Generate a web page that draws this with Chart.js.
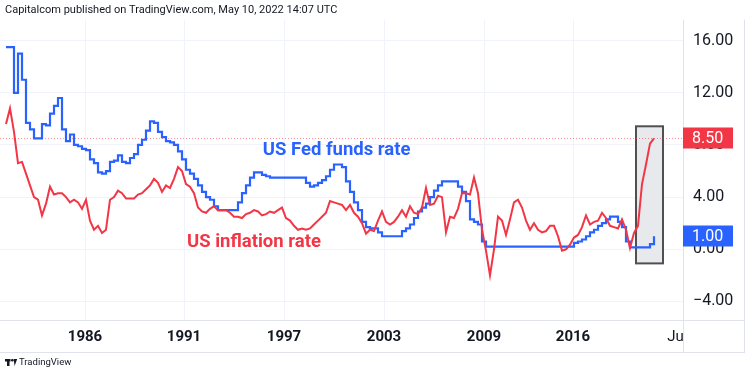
<!DOCTYPE html>
<html>
<head>
<meta charset="utf-8">
<script src="https://cdn.jsdelivr.net/npm/chart.js@4.4.1/dist/chart.umd.min.js"></script>
<style>
  html, body { margin: 0; padding: 0; background: #fff; }
  #wrap { position: relative; width: 750px; height: 372px; }
</style>
</head>
<body>
<div id="wrap"><canvas id="chart" width="750" height="372"></canvas></div>
<script>
// One value per bar, left to right across the pane (TradingView spaces bars evenly).
const inflation = [
  9.6, 10.8, 9.0, 6.6, 6.7, 5.8, 4.9, 4.0, 3.8, 2.6, 3.5, 4.8, 4.2, 4.3, 4.3, 4.0,
  3.6, 3.8, 3.6, 3.1, 3.8, 2.2, 1.5, 1.8, 1.25, 1.5, 3.8, 4.0, 4.5, 4.3, 3.9, 3.9,
  3.9, 4.2, 4.3, 4.6, 4.9, 5.4, 5.1, 4.4, 4.9, 4.7, 5.4, 6.3, 6.0, 5.0, 4.8, 4.3,
  3.2, 2.9, 2.8, 3.1, 3.3, 3.0, 3.0, 3.0, 2.8, 2.5, 2.5, 2.4, 2.7, 2.8, 3.0, 2.9, 2.6,
  2.7, 2.9, 2.8, 3.0, 3.2, 2.4, 2.2, 1.8, 1.5, 1.6, 1.5, 1.6, 1.9, 2.2, 2.5, 2.8,
  3.7, 3.6, 3.5, 3.4, 3.0, 3.4, 2.8, 2.5, 2.0, 1.2, 1.5, 1.4, 2.2, 2.9, 2.1, 1.9,
  2.1, 2.5, 3.0, 2.5, 3.3, 2.8, 2.7, 3.2, 4.7, 3.4, 3.5, 4.1, 4.0, 1.3, 2.5, 2.4,
  3.1, 4.3, 4.3, 4.2, 5.5, 4.3, 1.5, -0.1, -2.0, 0.0, 2.5, 2.2, 1.1, 2.3, 3.6, 3.8, 3.2,
  2.2, 1.5, 2.0, 1.5, 1.3, 1.4, 1.8, 1.8, 1.0, -0.1, 0.0, 0.35, 0.9, 1.1, 1.7, 2.6,
  1.9, 2.1, 2.2, 2.8, 2.4, 1.8, 1.7, 1.6, 2.3, 1.5, 0.1, 1.25, 1.8, 5.0, 6.5, 8.1, 8.5
];
const fedFunds = [
  15.5, 15.5, 12.0, 15.0, 13.0, 9.7, 9.2, 8.5, 8.5, 9.6, 9.5, 10.4, 11.0, 11.6, 9.2, 8.3,
  8.8, 8.0, 7.9, 7.7, 7.6, 6.9, 6.6, 5.9, 5.8, 6.0, 6.7, 6.8, 7.2, 6.7, 6.6, 7.0,
  7.3, 8.0, 8.4, 9.1, 9.8, 9.7, 9.0, 8.6, 8.3, 8.2, 8.0, 7.5, 6.9, 6.1, 5.8, 5.4,
  4.9, 4.4, 4.0, 3.8, 3.3, 3.0, 3.0, 3.0, 3.0, 3.0, 3.6, 4.3, 4.9, 5.5, 5.9, 5.9, 5.7,
  5.6, 5.5, 5.5, 5.5, 5.5, 5.5, 5.5, 5.5, 5.5, 5.5, 5.1, 4.8, 4.9, 5.1, 5.3, 5.6,
  6.1, 6.5, 6.5, 6.3, 5.2, 4.4, 3.6, 3.0, 2.1, 1.7, 1.6, 1.6, 1.3, 1.0, 1.0, 1.0,
  1.0, 1.0, 1.4, 1.6, 1.9, 2.4, 2.9, 3.2, 3.5, 4.0, 4.5, 4.9, 5.2, 5.2, 5.2, 5.2,
  4.8, 4.4, 3.7, 2.3, 2.1, 1.9, 0.6, 0.2, 0.2, 0.2, 0.2, 0.2, 0.2, 0.2, 0.2, 0.2, 0.2,
  0.2, 0.2, 0.2, 0.2, 0.2, 0.2, 0.2, 0.2, 0.2, 0.2, 0.2, 0.2, 0.5, 0.6, 0.75, 1.0,
  1.3, 1.5, 1.8, 2.0, 2.3, 2.5, 2.5, 2.1, 1.7, 0.6, 0.15, 0.15, 0.15, 0.15, 0.15, 0.4, 1.0
];

// time axis: bar index of each label
const xTickBars = [19.75, 44.5, 69.5, 94.5, 119.5, 141.75, 167.4];
const xTickLabels = ['1986', '1991', '1997', '2003', '2009', '2016', 'Ju'];
const yTickValues = [-4, 0, 4, 8, 12, 16];
const seriesNames = ['US inflation rate', 'US Fed funds rate'];

const BLUE = '#2962ff';
const RED = '#f23645';
const TEXT = '#131722';
const GRID = '#f0f3fa';
const FRAME = '#e0e3eb';

// drawings on the chart (bar index / price units)
const highlight = { from: 157.5, to: 164.25, high: 9.43, low: -1.08 };
const callouts = [
  { text: 'US Fed funds rate', bar: 64.2, value: 7.6, color: BLUE },
  { text: 'US inflation rate', bar: 45.25, value: 0.5, color: RED }
];

const toPoints = arr => arr.map((v, i) => ({ x: i, y: v }));
const last = arr => arr[arr.length - 1];

const drawings = {
  id: 'drawings',
  beforeDatasetsDraw(chart) {
    const { ctx, chartArea: a, scales: { x, y } } = chart;
    ctx.save();
    // grey highlight rectangle
    const x0 = x.getPixelForValue(highlight.from), x1 = x.getPixelForValue(highlight.to);
    const y0 = y.getPixelForValue(highlight.high), y1 = y.getPixelForValue(highlight.low);
    ctx.fillStyle = '#e8e9ec';
    ctx.fillRect(x0, y0, x1 - x0, y1 - y0);
    ctx.strokeStyle = '#505050';
    ctx.lineWidth = 2;
    ctx.strokeRect(x0, y0, x1 - x0, y1 - y0);
    // last price line of the inflation series
    const py = Math.round(y.getPixelForValue(last(inflation))) + 0.5;
    ctx.strokeStyle = 'rgba(242,54,69,0.55)';
    ctx.lineWidth = 1;
    ctx.setLineDash([1, 2]);
    ctx.beginPath();
    ctx.moveTo(a.left, py);
    ctx.lineTo(a.right, py);
    ctx.stroke();
    ctx.restore();
  },
  afterDatasetsDraw(chart) {
    const { ctx, scales: { x, y } } = chart;
    ctx.save();
    ctx.font = 'bold 18.5px Roboto';
    ctx.textBaseline = 'middle';
    ctx.textAlign = 'left';
    callouts.forEach(c => {
      ctx.fillStyle = c.color;
      ctx.fillText(c.text, x.getPixelForValue(c.bar), y.getPixelForValue(c.value));
    });
    ctx.restore();
  },
  afterDraw(chart) {
    const { ctx, chartArea: a, scales: { y } } = chart;
    const right = a.right + y.width;
    const axisBottom = a.bottom + chart.scales.x.height;
    ctx.save();
    // pane frame
    ctx.strokeStyle = FRAME;
    ctx.lineWidth = 1;
    ctx.beginPath();
    ctx.moveTo(a.right + 0.5, a.top); ctx.lineTo(a.right + 0.5, axisBottom);
    ctx.moveTo(right - 0.5, a.top); ctx.lineTo(right - 0.5, axisBottom);
    ctx.moveTo(0, a.bottom + 0.5); ctx.lineTo(right, a.bottom + 0.5);
    ctx.moveTo(0, axisBottom + 0.5); ctx.lineTo(right, axisBottom + 0.5);
    ctx.stroke();

    // last value labels on the price scale
    const tags = [[last(inflation), RED], [last(fedFunds), BLUE]];
    ctx.font = '16px Roboto';
    ctx.textBaseline = 'middle';
    tags.forEach(([v, col]) => {
      const py = y.getPixelForValue(v);
      ctx.fillStyle = col;
      ctx.fillRect(a.right, Math.round(py) - 10.5, 50, 21);
      ctx.fillStyle = '#fff';
      ctx.fillText(v.toFixed(2), a.right + 9, py + 0.5);
    });

    // header and footer
    ctx.fillStyle = TEXT;
    ctx.font = '11px Roboto';
    ctx.fillText('Capitalcom published on TradingView.com, May 10, 2022 14:07 UTC', 5, 10);
    ctx.fillRect(5, 359, 5.5, 2.5);
    ctx.fillRect(7, 359, 2.5, 7);
    ctx.beginPath(); ctx.arc(12.3, 360.3, 1.3, 0, Math.PI * 2); ctx.fill();
    ctx.beginPath(); ctx.moveTo(13.6, 359); ctx.lineTo(17.2, 359); ctx.lineTo(14.6, 366); ctx.closePath(); ctx.fill();
    ctx.font = '9.5px Roboto';
    ctx.fillText('TradingView', 19, 362.5);
    ctx.restore();
  }
};

new Chart(document.getElementById('chart'), {
  type: 'line',
  data: {
    datasets: [
      { label: seriesNames[0], data: toPoints(inflation), borderColor: RED, borderWidth: 2,
        pointRadius: 0, tension: 0, fill: false },
      { label: seriesNames[1], data: toPoints(fedFunds), borderColor: BLUE, borderWidth: 2.2,
        pointRadius: 0, stepped: true, fill: false }
    ]
  },
  options: {
    responsive: false,
    animation: false,
    devicePixelRatio: 1,
    layout: { padding: { top: 16, right: 5, bottom: 20, left: 0 } },
    plugins: { legend: { display: false }, tooltip: { enabled: false } },
    scales: {
      x: {
        type: 'linear',
        min: -1.5,
        max: 169.25,
        afterBuildTicks: s => { s.ticks = xTickBars.map(v => ({ value: v })); },
        afterFit: s => { s.height = 32; },
        border: { display: false },
        grid: { color: c => (c.index === xTickBars.length - 1 ? 'rgba(0,0,0,0)' : GRID), drawTicks: false },
        ticks: {
          autoSkip: false,
          maxRotation: 0,
          padding: 8,
          color: TEXT,
          font: c => ({ family: 'Roboto', size: 15, weight: c.index === xTickBars.length - 1 ? 'normal' : 'bold' }),
          callback: (v, i) => xTickLabels[i]
        }
      },
      y: {
        position: 'right',
        min: -5.42,
        max: 17.61,
        afterBuildTicks: s => { s.ticks = yTickValues.map(v => ({ value: v })); },
        afterFit: s => { s.width = 62; },
        border: { display: false },
        grid: { color: GRID, drawTicks: false },
        ticks: {
          padding: 10,
          color: TEXT,
          font: { family: 'Roboto', size: 16 },
          callback: v => (v < 0 ? '\u2212' : '') + Math.abs(v).toFixed(2)
        }
      }
    }
  },
  plugins: [drawings]
});
</script>
</body>
</html>
